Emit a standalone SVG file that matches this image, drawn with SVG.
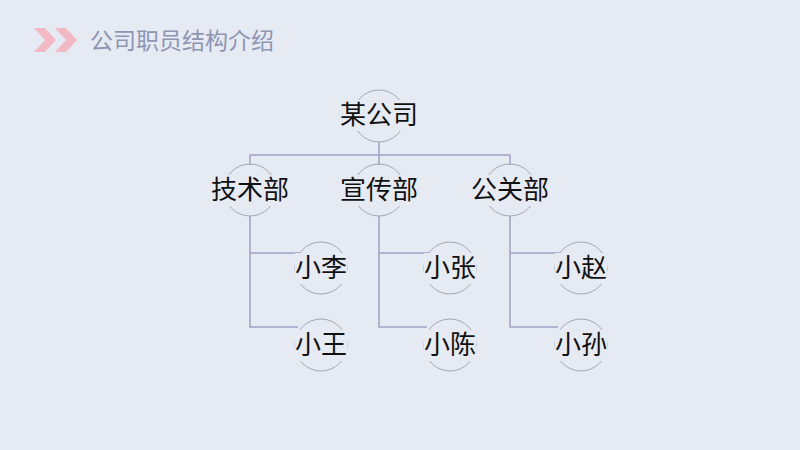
<svg xmlns="http://www.w3.org/2000/svg" width="800" height="450" viewBox="0 0 800 450">
<style>
.bg{fill:#e6eaf2}
.ring{fill:none;stroke:#a3a6ba;stroke-width:1}
.lbl{font-family:"Noto Sans CJK SC","Noto Serif CJK SC",serif;font-size:26px;fill:#111;text-anchor:middle}
.conn{fill:none;stroke:#a0a2c6;stroke-width:1.5}
</style>
<rect x="0" y="0" width="800" height="450" class="bg"/>
<g id="header">
<polygon points="34,28 45,28 56,40 45,52 34,52 45,40" fill="#f1b9c3"/>
<polygon points="55,28 66,28 77,40 66,52 55,52 66,40" fill="#f1b9c3"/>
<text x="90" y="49" font-family="Noto Sans CJK SC,sans-serif" font-size="23" fill="#8d95b3">公司职员结构介绍</text>
</g>
<g id="connectors">
<path class="conn" d="M379,142 V155 M250,155 H510 M250,155 V165 M379,155 V165 M510,155 V165"/>
<path class="conn" d="M250,216 V327 H298 M250,253 H300"/>
<path class="conn" d="M379,216 V327 H427 M379,253 H429"/>
<path class="conn" d="M510,216 V327 H558 M510,253 H560"/>
</g>
<g id="n_company">
<circle class="ring" cx="379" cy="116" r="26"/>
<rect class="bg" x="340" y="100" width="78" height="31"/>
<text class="lbl" x="379" y="124">某公司</text>
</g>
<g id="n_tech">
<circle class="ring" cx="250" cy="190" r="26"/>
<rect class="bg" x="211" y="175" width="79" height="31"/>
<text class="lbl" x="250" y="199">技术部</text>
</g>
<g id="n_pub">
<circle class="ring" cx="379" cy="190" r="26"/>
<rect class="bg" x="340" y="175" width="79" height="31"/>
<text class="lbl" x="379" y="199">宣传部</text>
</g>
<g id="n_pr">
<circle class="ring" cx="510" cy="190" r="26"/>
<rect class="bg" x="471" y="175" width="79" height="31"/>
<text class="lbl" x="510" y="199">公关部</text>
</g>
<g id="n_li">
<circle class="ring" cx="321" cy="268" r="26"/>
<rect class="bg" x="295" y="253" width="52" height="31"/>
<text class="lbl" x="321" y="277">小李</text>
</g>
<g id="n_wang">
<circle class="ring" cx="321" cy="345" r="26"/>
<rect class="bg" x="295" y="330" width="52" height="31"/>
<text class="lbl" x="321" y="354">小王</text>
</g>
<g id="n_zhang">
<circle class="ring" cx="450" cy="268" r="26"/>
<rect class="bg" x="424" y="253" width="52" height="31"/>
<text class="lbl" x="450" y="277">小张</text>
</g>
<g id="n_chen">
<circle class="ring" cx="450" cy="345" r="26"/>
<rect class="bg" x="424" y="330" width="52" height="31"/>
<text class="lbl" x="450" y="354">小陈</text>
</g>
<g id="n_zhao">
<circle class="ring" cx="581" cy="268" r="26"/>
<rect class="bg" x="555" y="253" width="52" height="31"/>
<text class="lbl" x="581" y="277">小赵</text>
</g>
<g id="n_sun">
<circle class="ring" cx="581" cy="345" r="26"/>
<rect class="bg" x="555" y="330" width="52" height="31"/>
<text class="lbl" x="581" y="354">小孙</text>
</g>
</svg>
